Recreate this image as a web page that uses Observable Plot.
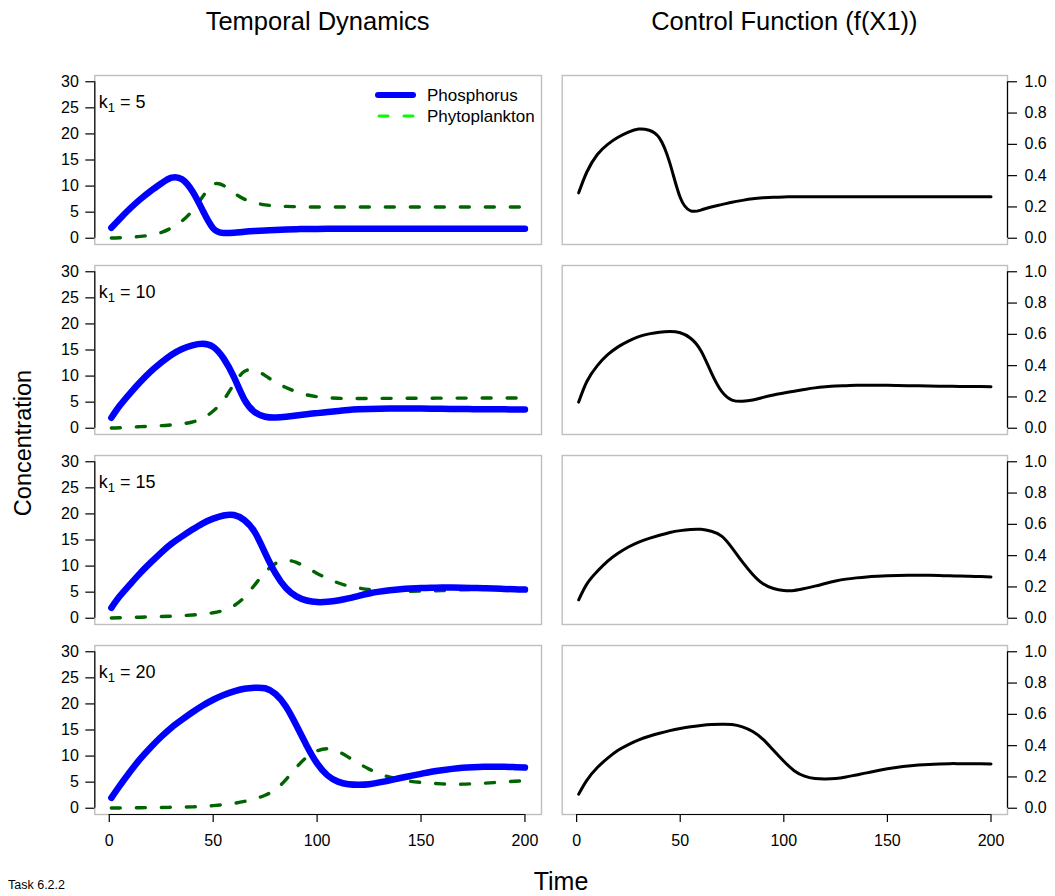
<!DOCTYPE html>
<html>
<head>
<meta charset="utf-8">
<script src="https://cdn.jsdelivr.net/npm/d3@7"></script>
<script src="https://cdn.jsdelivr.net/npm/@observablehq/plot@0.6"></script>
<style>
  body { margin: 0; background: #fff; }
  #page { position: relative; width: 1055px; height: 896px; overflow: hidden;
          font-family: "Liberation Sans", Arial, Helvetica, sans-serif; }
  #page > svg { position: absolute; }
</style>
</head>
<body>
<div id="page"></div>
<script>
// ---- Simulation output: time steps and the three state/control series per k1 ----
const time = [1,5,10,15,20,25,30,35,40,45,50,55,60,65,70,75,80,85,90,95,100,
              105,110,115,120,125,130,135,140,145,150,155,160,165,170,175,180,185,190,195,200];

const k1Values = [5, 10, 15, 20];

const phosphorus_k5 = [2.0,3.7,5.7,7.5,9.1,10.5,11.6,11.3,9.0,5.3,1.9,1.0,1.05,1.25,1.4,1.5,1.6,1.68,1.74,1.77,1.79,
  1.8,1.8,1.8,1.8,1.8,1.8,1.8,1.8,1.8,1.8,1.8,1.8,1.8,1.8,1.8,1.8,1.8,1.8,1.8,1.8];
const phytoplankton_k5 = [0.05,0.1,0.2,0.35,0.6,1.1,2.0,3.3,5.3,8.0,10.3,10.1,8.7,7.5,6.8,6.4,6.2,6.1,6.05,6.0,6.0,
  6.0,6.0,6.0,6.0,6.0,6.0,6.0,6.0,6.0,6.0,6.0,6.0,6.0,6.0,6.0,6.0,6.0,6.0,6.0,6.0];
const control_k5 = [0.29,0.425,0.535,0.60,0.645,0.678,0.698,0.69,0.64,0.48,0.26,0.175,0.18,0.2,0.215,0.23,0.242,0.252,0.258,0.262,0.264,
  0.265,0.265,0.265,0.265,0.265,0.265,0.265,0.265,0.265,0.265,0.265,0.265,0.265,0.265,0.265,0.265,0.265,0.265,0.265,0.265];

const phosphorus_k10 = [2.0,4.3,6.7,8.9,10.9,12.6,14.1,15.2,15.9,16.2,15.6,13.4,9.8,5.5,3.1,2.2,2.05,2.2,2.45,2.7,2.9,
  3.1,3.3,3.5,3.62,3.7,3.75,3.77,3.78,3.78,3.77,3.75,3.72,3.7,3.68,3.66,3.64,3.63,3.62,3.61,3.6];
const phytoplankton_k10 = [0.05,0.1,0.2,0.3,0.4,0.5,0.65,0.85,1.2,1.9,3.3,5.4,8.5,10.9,11.1,10.1,8.8,7.8,7.0,6.4,6.05,
  5.85,5.75,5.7,5.7,5.7,5.72,5.73,5.74,5.75,5.75,5.76,5.77,5.78,5.78,5.79,5.8,5.8,5.8,5.8,5.8];
const control_k10 = [0.167,0.30,0.40,0.47,0.52,0.557,0.585,0.603,0.614,0.618,0.61,0.575,0.495,0.355,0.235,0.18,0.172,0.18,0.197,0.213,0.225,
  0.237,0.248,0.258,0.265,0.27,0.272,0.274,0.274,0.274,0.274,0.273,0.272,0.271,0.27,0.269,0.268,0.267,0.266,0.266,0.265];

const phosphorus_k15 = [2.0,4.2,6.5,8.7,10.7,12.6,14.3,15.7,17.0,18.2,19.1,19.7,19.8,18.8,16.5,12.5,8.6,5.8,4.2,3.4,3.1,
  3.15,3.4,3.8,4.3,4.75,5.1,5.35,5.55,5.7,5.8,5.85,5.88,5.88,5.85,5.8,5.75,5.7,5.62,5.55,5.5];
const phytoplankton_k15 = [0.05,0.1,0.15,0.2,0.28,0.33,0.4,0.5,0.62,0.8,1.05,1.5,2.4,4.0,6.4,8.8,10.5,11.1,10.7,9.7,8.6,
  7.6,6.8,6.2,5.8,5.5,5.3,5.2,5.15,5.15,5.2,5.25,5.3,5.38,5.45,5.5,5.55,5.6,5.62,5.65,5.68];
const control_k15 = [0.118,0.22,0.30,0.365,0.415,0.455,0.487,0.51,0.53,0.548,0.56,0.567,0.568,0.556,0.525,0.45,0.36,0.28,0.22,0.19,0.178,
  0.178,0.19,0.205,0.222,0.238,0.25,0.258,0.264,0.268,0.271,0.273,0.274,0.274,0.274,0.273,0.271,0.27,0.268,0.266,0.264];

const phosphorus_k20 = [2.0,4.3,7.0,9.5,11.7,13.7,15.5,17.0,18.4,19.7,20.8,21.7,22.4,22.9,23.1,23.0,21.9,19.5,15.9,12.0,8.6,
  6.3,5.1,4.6,4.5,4.6,4.95,5.35,5.8,6.2,6.6,7.0,7.3,7.55,7.75,7.87,7.95,7.97,7.95,7.88,7.8];
const phytoplankton_k20 = [0.05,0.06,0.08,0.1,0.12,0.15,0.18,0.22,0.27,0.35,0.5,0.7,0.95,1.3,1.8,2.5,3.6,5.5,7.8,9.8,11.0,
  11.4,10.9,9.8,8.6,7.5,6.6,5.95,5.5,5.15,4.95,4.8,4.68,4.62,4.62,4.7,4.8,4.92,5.05,5.17,5.3];
const control_k20 = [0.09,0.18,0.26,0.32,0.37,0.407,0.437,0.46,0.479,0.496,0.51,0.521,0.529,0.535,0.537,0.535,0.52,0.49,0.44,0.37,0.30,
  0.24,0.205,0.19,0.187,0.19,0.2,0.213,0.226,0.24,0.252,0.262,0.27,0.276,0.28,0.283,0.285,0.285,0.285,0.284,0.283];

// ---- Tick values and labels ----
const concentrationTicks = [0, 5, 10, 15, 20, 25, 30];
const controlTicks = [0, 0.2, 0.4, 0.6, 0.8, 1.0];
const timeTicks = [0, 50, 100, 150, 200];
const columnTitles = ["Temporal Dynamics", "Control Function (f(X1))"];
const seriesNames = ["Phosphorus", "Phytoplankton"];

// ---- Styling ----
const FONT = '"Liberation Sans", Arial, Helvetica, sans-serif';
const BLUE = "#0000ff", DARKGREEN = "#006400", LEGENDGREEN = "#00ff00";
const FRAME = "#bfbfbf";
const DASH = "9,16";
const CURVE = "natural";

const rows = [
  {k: 5,  P: phosphorus_k5,  X: phytoplankton_k5,  f: control_k5},
  {k: 10, P: phosphorus_k10, X: phytoplankton_k10, f: control_k10},
  {k: 15, P: phosphorus_k15, X: phytoplankton_k15, f: control_k15},
  {k: 20, P: phosphorus_k20, X: phytoplankton_k20, f: control_k20}
];

// R-style 4% padding around a data range
const padded = (lo, hi) => { const p = (hi - lo) * 0.04; return [lo - p, hi + p]; };
const xDomain = padded(d3.min(time), d3.max(time));

// Layout of the panel grid (pixels)
const innerH = 169;
const rowTop = d3.range(4).map(i => 74.5 + i * 190.33);
const cols = [
  {svgLeft: 20,  svgRight: 552,  fx0: 94.3,  fx1: 541},
  {svgLeft: 552, svgRight: 1055, fx0: 561.7, fx1: 1007}
];

const page = document.getElementById("page");

function addPanel(colIndex, rowIndex) {
  const c = cols[colIndex];
  const r = rows[rowIndex];
  const isLeft = colIndex === 0;
  const showX = rowIndex === rows.length - 1;
  const yTicks = isLeft ? concentrationTicks : controlTicks;
  const yDomain = padded(yTicks[0], yTicks[yTicks.length - 1]);
  const mt = 6, mb = showX ? 56 : 6;

  const data = time.map((t, i) => ({t, P: r.P[i], X: r.X[i], f: r.f[i]}));

  const marks = [Plot.frame({stroke: FRAME, strokeWidth: 1.4})];
  if (isLeft) {
    marks.push(
      Plot.line(data, {x: "t", y: "X", stroke: DARKGREEN, strokeWidth: 3.4,
                       strokeDasharray: DASH, strokeLinecap: "round", curve: CURVE}),
      Plot.line(data, {x: "t", y: "P", stroke: BLUE, strokeWidth: 6.5, curve: CURVE}),
      Plot.text([`k1 = ${r.k}`], {text: d => d, frameAnchor: "top-left", dx: 4, dy: 27,
                                  textAnchor: "start", lineAnchor: "middle", fontSize: 18}),
      Plot.axisY({anchor: "left", ticks: yTicks, tickSize: 9, tickPadding: 7, label: null,
                  strokeWidth: 1.2, fontSize: 16}),
      Plot.ruleX([xDomain[0]], {y1: yTicks[0], y2: yTicks[yTicks.length - 1], stroke: "black", strokeWidth: 1.2})
    );
  } else {
    marks.push(
      Plot.line(data, {x: "t", y: "f", stroke: "black", strokeWidth: 3, curve: CURVE}),
      Plot.axisY({anchor: "right", ticks: yTicks, tickSize: 9, tickPadding: 8, label: null,
                  tickFormat: d3.format(".1f"), strokeWidth: 1.2, fontSize: 16}),
      Plot.ruleX([xDomain[1]], {y1: yTicks[0], y2: yTicks[yTicks.length - 1], stroke: "black", strokeWidth: 1.2})
    );
  }
  if (showX) {
    marks.push(
      Plot.axisX({ticks: timeTicks, tickSize: 8, tickPadding: 12, label: null, strokeWidth: 1.2, fontSize: 16}),
      Plot.ruleY([yDomain[0]], {x1: timeTicks[0], x2: timeTicks[timeTicks.length - 1], stroke: "black", strokeWidth: 1.2})
    );
  }

  const chart = Plot.plot({
    width: c.svgRight - c.svgLeft,
    height: mt + innerH + mb,
    marginTop: mt,
    marginBottom: mb,
    marginLeft: c.fx0 - c.svgLeft,
    marginRight: c.svgRight - c.fx1,
    x: {domain: xDomain, axis: null},
    y: {domain: yDomain, axis: null},
    style: {fontFamily: FONT, fontSize: "16px", background: "transparent", color: "black", overflow: "visible"},
    marks
  });

  // Subscripted k1 label
  chart.querySelectorAll('g[aria-label="text"] text').forEach(node => {
    const value = node.textContent.split("=")[1].trim();
    node.textContent = "";
    const ns = "http://www.w3.org/2000/svg";
    const a = document.createElementNS(ns, "tspan"); a.textContent = "k";
    const b = document.createElementNS(ns, "tspan"); b.textContent = "1";
    b.setAttribute("font-size", "13"); b.setAttribute("dy", "4");
    const c2 = document.createElementNS(ns, "tspan"); c2.textContent = " = " + value;
    c2.setAttribute("dy", "-4");
    node.append(a, b, c2);
  });

  chart.style.left = c.svgLeft + "px";
  chart.style.top = (rowTop[rowIndex] - mt) + "px";
  page.append(chart);
}

rows.forEach((_, ri) => { addPanel(0, ri); addPanel(1, ri); });

// ---- Titles, axis labels, legend and caption ----
const ann = d3.select(page).append("svg")
  .attr("width", 1055).attr("height", 896)
  .style("left", "0px").style("top", "0px").style("pointer-events", "none")
  .attr("font-family", FONT).attr("fill", "black");

ann.append("text").attr("x", (cols[0].fx0 + cols[0].fx1) / 2).attr("y", 30)
  .attr("text-anchor", "middle").attr("font-size", 25.5).text(columnTitles[0]);
ann.append("text").attr("x", (cols[1].fx0 + cols[1].fx1) / 2).attr("y", 30)
  .attr("text-anchor", "middle").attr("font-size", 25.5).text(columnTitles[1]);

ann.append("text").attr("transform", "translate(31,443) rotate(-90)")
  .attr("text-anchor", "middle").attr("font-size", 23.5).text("Concentration");
ann.append("text").attr("x", 561).attr("y", 890)
  .attr("text-anchor", "middle").attr("font-size", 25).text("Time");
ann.append("text").attr("x", 8).attr("y", 889)
  .attr("font-size", 12.5).text("Task 6.2.2");

// Legend in the first concentration panel
const leg = ann.append("g");
leg.append("line").attr("x1", 378).attr("x2", 413).attr("y1", 95).attr("y2", 95)
  .attr("stroke", BLUE).attr("stroke-width", 6).attr("stroke-linecap", "round");
leg.append("text").attr("x", 427).attr("y", 95).attr("dy", "0.35em")
  .attr("font-size", 17).text(seriesNames[0]);
leg.append("line").attr("x1", 379).attr("x2", 413).attr("y1", 116).attr("y2", 116)
  .attr("stroke", LEGENDGREEN).attr("stroke-width", 3).attr("stroke-dasharray", DASH)
  .attr("stroke-linecap", "round");
leg.append("text").attr("x", 427).attr("y", 116).attr("dy", "0.35em")
  .attr("font-size", 17).text(seriesNames[1]);
</script>
</body>
</html>
